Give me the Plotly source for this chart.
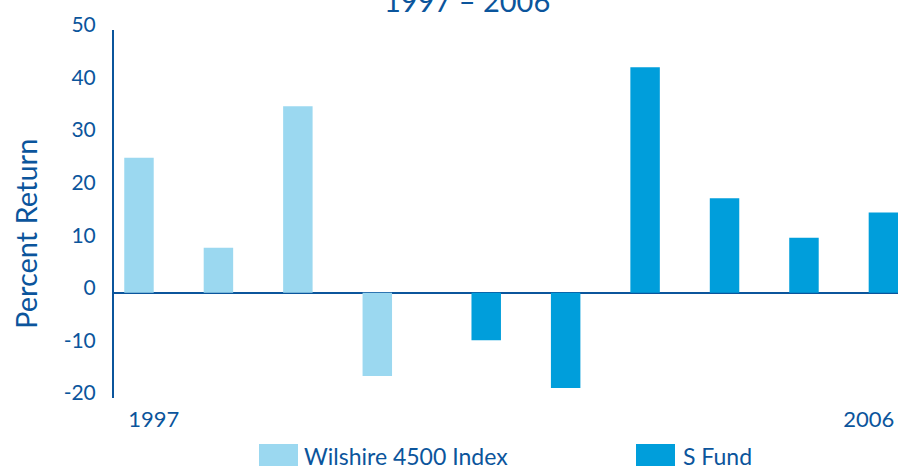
import plotly.graph_objects as go

years = [1997, 1998, 1999, 2000, 2001, 2002, 2003, 2004, 2005, 2006]
wilshire = [25.7, 8.6, 35.5, -15.8, None, None, None, None, None, None]
s_fund = [None, None, None, None, -9.0, -18.1, 42.9, 18.0, 10.5, 15.3]
y_ticks = [-20, -10, 0, 10, 20, 30, 40, 50]
x_ticks = [1997, 2006]
title_text = "1997 – 2006"
y_title = "Percent Return"
legend_names = ["Wilshire 4500 Index", "S Fund"]

W, H = 898, 466
ML, MR, MT, MB = 114, 0, 30, 68
PW, PH = W - ML - MR, H - MT - MB

LIGHT = "#9bd8f0"
DARK = "#009edb"
INK = "#0b559c"
FONT = "Lato"


def px(x):
    return (x - ML) / PW


def py(y):
    return (H - MB - y) / PH


fig = go.Figure()
fig.add_trace(go.Bar(x=years, y=wilshire, name=legend_names[0], marker_color=LIGHT,
                     marker_line_width=0, showlegend=False))
fig.add_trace(go.Bar(x=years, y=s_fund, name=legend_names[1], marker_color=DARK,
                     marker_line_width=0, showlegend=False))

step = 79.44
x0 = years[0] - 0.5
x1 = x0 + PW / step

fig.update_layout(
    width=W, height=H,
    margin=dict(l=ML, r=MR, t=MT, b=MB, pad=0),
    paper_bgcolor="white", plot_bgcolor="white",
    barmode="group", bargap=0.258, bargroupgap=0,
    font=dict(family=FONT, color=INK),
    xaxis=dict(range=[x0, x1], tickvals=x_ticks, ticktext=[str(v) for v in x_ticks],
               showgrid=False, zeroline=False, showline=False, ticks="",
               tickfont=dict(size=22, color=INK), ticklabelstandoff=6),
    yaxis=dict(range=[-20, 50], tickvals=y_ticks, ticktext=[str(v) for v in y_ticks],
               showgrid=False,
               zeroline=True, zerolinecolor=INK, zerolinewidth=2,
               showline=True, linecolor=INK, linewidth=2, ticks="",
               tickfont=dict(size=21, color=INK), ticklabelstandoff=12,
               ticklabelshift=-5),
)

annotations = [
    dict(text=title_text, xref="paper", yref="paper", x=px(467), y=py(20),
         xanchor="center", yanchor="bottom", showarrow=False,
         font=dict(size=29, color=INK)),
    dict(text=y_title, xref="paper", yref="paper", x=px(25), y=py(234),
         xanchor="center", yanchor="middle", textangle=-90, showarrow=False,
         font=dict(size=29, color=INK)),
    dict(text=legend_names[0], xref="paper", yref="paper", x=px(302), y=py(456),
         xanchor="left", yanchor="middle", showarrow=False,
         font=dict(size=23, color=INK)),
    dict(text=legend_names[1], xref="paper", yref="paper", x=px(681), y=py(456),
         xanchor="left", yanchor="middle", showarrow=False,
         font=dict(size=23, color=INK)),
]
shapes = [
    dict(type="rect", xref="paper", yref="paper", x0=px(259), x1=px(298),
         y0=py(444), y1=py(470), fillcolor=LIGHT, line_width=0),
    dict(type="rect", xref="paper", yref="paper", x0=px(636), x1=px(675),
         y0=py(444), y1=py(470), fillcolor=DARK, line_width=0),
]
fig.update_layout(annotations=annotations, shapes=shapes)

fig.write_html("out.html", config={"displayModeBar": False},
               post_script="document.body.style.margin='0';document.body.style.overflow='hidden';")
